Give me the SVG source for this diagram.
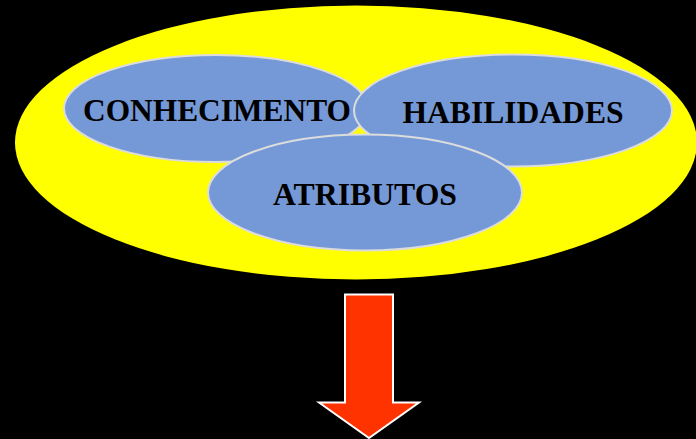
<svg xmlns="http://www.w3.org/2000/svg" width="696" height="439" viewBox="0 0 696 439">
<style>
.blob{fill:#7599D7;stroke:#DCDCDC;stroke-width:2}
.lbl{font-family:"Liberation Serif","Times New Roman",serif;font-weight:bold;font-size:32px;fill:#000}
</style>
<rect x="0" y="0" width="696" height="439" fill="#000"/>
<g id="outer">
<ellipse cx="356" cy="142.5" rx="341" ry="137" fill="#FFFF00"/>
</g>
<g id="conhecimento">
<ellipse class="blob" cx="216" cy="108.5" rx="152" ry="53.5"/>
<text class="lbl" x="83" y="121" textLength="268" lengthAdjust="spacingAndGlyphs">CONHECIMENTO</text>
</g>
<g id="habilidades">
<ellipse class="blob" cx="513" cy="110.5" rx="159" ry="56"/>
<text class="lbl" x="402.5" y="123" textLength="221" lengthAdjust="spacingAndGlyphs">HABILIDADES</text>
</g>
<g id="atributos">
<ellipse class="blob" cx="365" cy="192.5" rx="157" ry="58"/>
<text class="lbl" x="273" y="205" textLength="184" lengthAdjust="spacingAndGlyphs">ATRIBUTOS</text>
</g>
<g id="connectors">
<polygon points="345,294.5 393,294.5 393,402.5 419,402.5 369,438 319,402.5 345,402.5" fill="#FF3300" stroke="#FFFFFF" stroke-width="2" stroke-linejoin="miter"/>
</g>
</svg>
